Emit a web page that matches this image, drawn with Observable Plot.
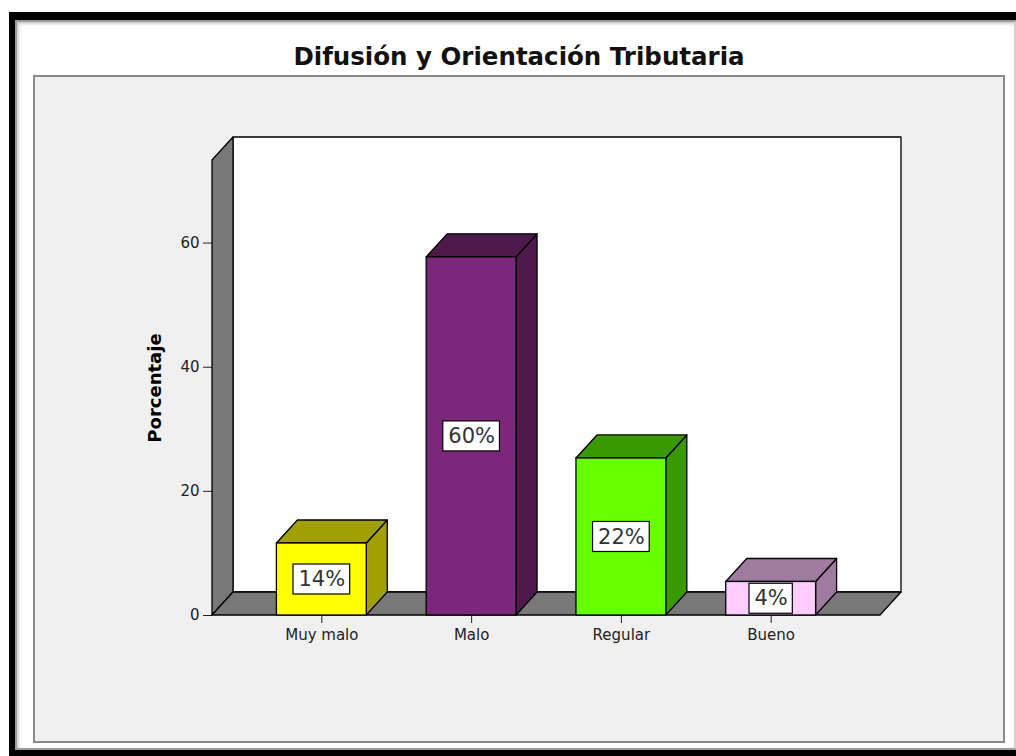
<!DOCTYPE html>
<html>
<head>
<meta charset="utf-8">
<script src="https://cdn.jsdelivr.net/npm/d3@7"></script>
<script src="https://cdn.jsdelivr.net/npm/@observablehq/plot@0.6"></script>
<style>
  html, body { margin: 0; padding: 0; background: #fff; }
  body { width: 1016px; height: 756px; position: relative; overflow: hidden; font-family: "DejaVu Sans", sans-serif; }
  #frame { position: absolute; left: 9px; top: 12px; width: 1030px; height: 750px; background: #000; }
  #panel { position: absolute; left: 15px; top: 20px; width: 997px; height: 726px; background: #fff;
           border: 2px solid #9a9a9a; border-right: 4px solid #d0d0d0; box-shadow: inset 2px 2px 3px #ccc; }
  #title { position: absolute; left: 33px; width: 972px; top: 42px; line-height: 30px; text-align: center;
           font-family: "DejaVu Sans", sans-serif; font-weight: bold; font-size: 24.5px; color: #111; }
  #box { position: absolute; left: 33px; top: 75px; width: 968px; height: 664px; background: #f0f0f0;
         border: 2px solid #8a8a8a; }
  #box svg { position: absolute; left: 0; top: 0; }
</style>
</head>
<body>
<div id="frame"></div>
<div id="panel"></div>
<div id="title">Difusión y Orientación Tributaria</div>
<div id="box"></div>
<script>
// ---- data ----
const categories = ["Muy malo", "Malo", "Regular", "Bueno"];
const percentages = [11.6, 57.7, 25.3, 5.4];
const valueLabels = ["14%", "60%", "22%", "4%"];
const yTicks = [0, 20, 40, 60];
const yMax = 73.3;
const yTitle = "Porcentaje";

// ---- styles ----
const frontColors = ["#ffff00", "#7b287a", "#66ff00", "#ffccff"];
const shadeColors = ["#a0a000", "#4e1a4c", "#3a9900", "#a07ba0"];
const DX = 21, DY = -23;      // depth offset (px) of the 3D effect
const wallColor = "#787878";

const table = categories.map((c, i) => ({category: c, value: percentages[i], label: valueLabels[i]}));

function polygon(g, pts, fill) {
  g.append("polygon")
    .attr("points", pts.map(p => p.join(",")).join(" "))
    .attr("fill", fill)
    .attr("stroke", "#000")
    .attr("stroke-width", 1.3)
    .attr("stroke-linejoin", "round");
}
function bandwidthOf(sx) {
  return typeof sx.bandwidth === "function" ? sx.bandwidth() : sx.bandwidth;
}

// back wall, left wall and floor, from the scales
function wallsMark(index, scales, values, dims) {
  const sy = scales.y;
  const x0 = dims.marginLeft, x1 = dims.width - dims.marginRight;
  const y0 = sy(0), yT = sy(yMax);
  const g = d3.create("svg:g");
  polygon(g, [[x0 + DX, yT + DY], [x1 + DX, yT + DY], [x1 + DX, y0 + DY], [x0 + DX, y0 + DY]], "#fff");
  polygon(g, [[x0, y0], [x0, yT], [x0 + DX, yT + DY], [x0 + DX, y0 + DY]], wallColor);
  polygon(g, [[x0, y0], [x1, y0], [x1 + DX, y0 + DY], [x0 + DX, y0 + DY]], wallColor);
  return g.node();
}

// side and top faces of each bar
function barFacesMark(index, scales) {
  const sx = scales.x, sy = scales.y;
  const bw = bandwidthOf(sx);
  const g = d3.create("svg:g");
  table.forEach((d, i) => {
    const xa = sx(d.category), xb = xa + bw, yv = sy(d.value), y0 = sy(0);
    polygon(g, [[xb, yv], [xb + DX, yv + DY], [xb + DX, y0 + DY], [xb, y0]], shadeColors[i]);
    polygon(g, [[xa, yv], [xb, yv], [xb + DX, yv + DY], [xa + DX, yv + DY]], shadeColors[i]);
  });
  return g.node();
}

// white boxes behind the value labels
const ctx = document.createElement("canvas").getContext("2d");
ctx.font = "21px 'DejaVu Sans'";
function labelBoxMark(index, scales) {
  const sx = scales.x, sy = scales.y;
  const bw = bandwidthOf(sx);
  const g = d3.create("svg:g");
  table.forEach(d => {
    const w = ctx.measureText(d.label).width + 10, h = 30;
    const cx = sx(d.category) + bw / 2, cy = sy(d.value / 2);
    g.append("rect").attr("x", cx - w / 2).attr("y", cy - h / 2).attr("width", w).attr("height", h)
      .attr("fill", "#fff").attr("stroke", "#000").attr("stroke-width", 1.2);
  });
  return g.node();
}

const chart = Plot.plot({
  width: 968,
  height: 664,
  marginLeft: 177,
  marginRight: 123,
  marginTop: 83,
  marginBottom: 126,
  style: {background: "transparent", fontFamily: "DejaVu Sans", fontSize: "15px", color: "#222", overflow: "visible"},
  x: {domain: categories, paddingInner: 0.4, paddingOuter: 0.43, round: false, tickSize: 8, tickPadding: 6, label: null},
  y: {domain: [0, yMax], ticks: yTicks, tickSize: 9, tickPadding: 4, label: null},
  color: {domain: categories, range: frontColors},
  marks: [
    wallsMark,
    barFacesMark,
    Plot.barY(table, {x: "category", y: "value", fill: "category", stroke: "#000", strokeWidth: 1.3}),
    labelBoxMark,
    Plot.text(table, {x: "category", y: d => d.value / 2, text: "label", fontSize: 21, fill: "#333", fontFamily: "DejaVu Sans"}),
    Plot.text([yTitle], {frameAnchor: "left", dx: -57, rotate: -90, textAnchor: "middle", lineAnchor: "middle",
      fontWeight: "bold", fontSize: 18, fill: "#000", fontFamily: "DejaVu Sans"})
  ]
});
document.getElementById("box").appendChild(chart);
</script>
</body>
</html>
